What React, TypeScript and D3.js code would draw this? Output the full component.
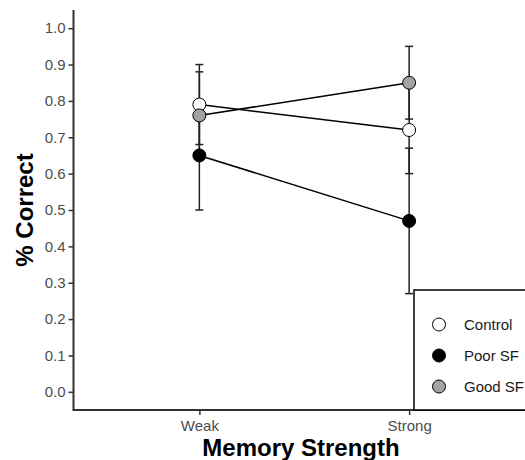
import React, { useEffect, useRef } from "react";
import * as d3 from "d3";

const categories = ["Weak", "Strong"];
const groups = ["Control", "Poor SF", "Good SF"];
const groupFills = ["#ffffff", "#000000", "#a3a3a3"];
const controlMeans = [0.79, 0.72];
const controlErr = [0.11, 0.12];
const poorMeans = [0.65, 0.47];
const poorErr = [0.15, 0.2];
const goodMeans = [0.76, 0.85];
const goodErr = [0.12, 0.1];
const yTicks = [0, 0.1, 0.2, 0.3, 0.4, 0.5, 0.6, 0.7, 0.8, 0.9, 1.0];

const series = [
  { name: groups[0], fill: groupFills[0], means: controlMeans, err: controlErr },
  { name: groups[1], fill: groupFills[1], means: poorMeans, err: poorErr },
  { name: groups[2], fill: groupFills[2], means: goodMeans, err: goodErr }
];

function App() {
  const ref = useRef<SVGSVGElement | null>(null);

  useEffect(() => {
    const svg = d3.select(ref.current);
    svg.selectAll("*").remove();
    const font = "'Liberation Sans', Arial, Helvetica, sans-serif";

    const left = 73.5;
    const right = 535;
    const top = 10;
    const bottom = 410;

    const x = d3.scalePoint().domain(categories).range([left, right]).padding(0.6);
    const y = d3.scaleLinear().domain([-0.05, 1.05]).range([bottom, top]);

    // lines
    const line = d3
      .line<number>()
      .x((d, i) => x(categories[i]) as number)
      .y(d => y(d));

    const g = svg.append("g");
    series.forEach(s => {
      g.append("path")
        .attr("d", line(s.means))
        .attr("fill", "none")
        .attr("stroke", "#000")
        .attr("stroke-width", 1.5);
    });

    // error bars
    series.forEach(s => {
      s.means.forEach((m, i) => {
        const cx = x(categories[i]) as number;
        const eb = g.append("g").attr("stroke", "#222").attr("stroke-width", 1.5);
        eb.append("line")
          .attr("x1", cx).attr("x2", cx)
          .attr("y1", y(m - s.err[i])).attr("y2", y(m + s.err[i]));
        [m - s.err[i], m + s.err[i]].forEach(v => {
          eb.append("line")
            .attr("x1", cx - 4).attr("x2", cx + 4)
            .attr("y1", y(v)).attr("y2", y(v));
        });
      });
    });

    // points
    series.forEach(s => {
      g.selectAll(null)
        .data(s.means)
        .enter()
        .append("circle")
        .attr("cx", (d, i) => x(categories[i]) as number)
        .attr("cy", d => y(d))
        .attr("r", 6.5)
        .attr("fill", s.fill)
        .attr("stroke", "#000")
        .attr("stroke-width", 1);
    });

    // axes
    const yAxis = svg
      .append("g")
      .attr("transform", `translate(${left},0)`)
      .call(d3.axisLeft(y).tickValues(yTicks).tickFormat(d3.format(".1f")).tickSize(5).tickPadding(3));
    const xAxis = svg
      .append("g")
      .attr("transform", `translate(0,${bottom})`)
      .call(d3.axisBottom(x).tickSize(5).tickPadding(3));

    [yAxis, xAxis].forEach(a => {
      a.select(".domain").remove();
      a.selectAll(".tick line").attr("stroke", "#333").attr("stroke-width", 1.5);
      a.selectAll(".tick text")
        .attr("fill", "#4d4d4d")
        .style("font-family", font)
        .style("font-size", "15px");
    });
    xAxis.selectAll(".tick text").attr("dy", null).attr("y", 21);

    svg.append("line")
      .attr("x1", left).attr("x2", left)
      .attr("y1", top).attr("y2", bottom + 0.75)
      .attr("stroke", "#333").attr("stroke-width", 2);
    svg.append("line")
      .attr("x1", left - 0.75).attr("x2", right)
      .attr("y1", bottom).attr("y2", bottom)
      .attr("stroke", "#333").attr("stroke-width", 2);

    // axis titles
    svg.append("text")
      .attr("x", 301)
      .attr("y", 456)
      .attr("text-anchor", "middle")
      .style("font-family", font)
      .style("font-size", "24px")
      .style("font-weight", "bold")
      .text("Memory Strength");
    svg.append("text")
      .attr("transform", `translate(33,${(top + bottom) / 2}) rotate(-90)`)
      .attr("text-anchor", "middle")
      .style("font-family", font)
      .style("font-size", "24px")
      .style("font-weight", "bold")
      .text("% Correct");

    // legend
    const lg = svg.append("g").attr("transform", "translate(414,290)");
    lg.append("rect")
      .attr("x", 0).attr("y", 0)
      .attr("width", 130).attr("height", 120)
      .attr("fill", "#fff")
      .attr("stroke", "#000")
      .attr("stroke-width", 1.5);
    series.forEach((s, i) => {
      lg.append("circle")
        .attr("cx", 25).attr("cy", 34.5 + i * 31)
        .attr("r", 6.5)
        .attr("fill", s.fill)
        .attr("stroke", "#000")
        .attr("stroke-width", 1);
      lg.append("text")
        .attr("x", 50).attr("y", 34.5 + i * 31)
        .attr("dy", "0.35em")
        .attr("fill", "#1a1a1a")
        .style("font-family", font)
        .style("font-size", "15px")
        .text(s.name);
    });
  }, []);

  return (
    <svg
      ref={ref}
      width={525}
      height={460}
      style={{ position: "absolute", left: 0, top: 0, background: "#fff" }}
    />
  );
}

export default App;
